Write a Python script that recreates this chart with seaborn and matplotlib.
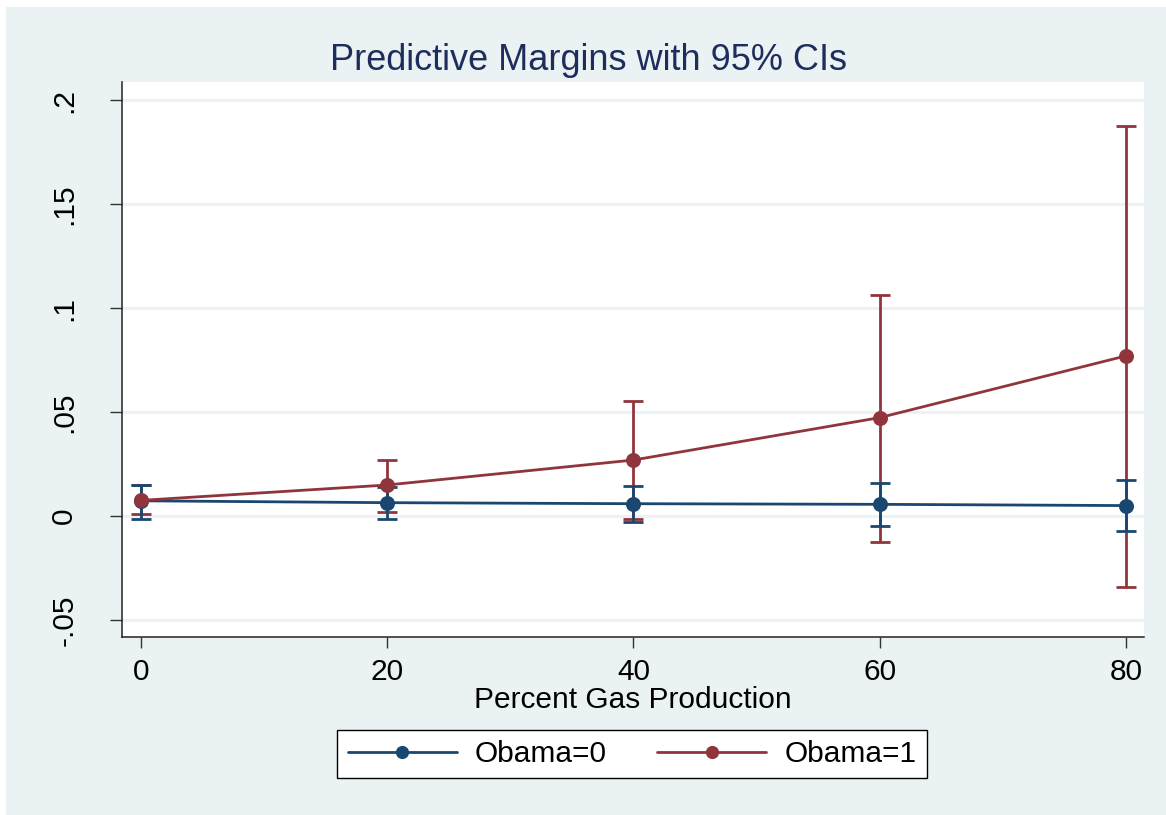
import matplotlib
matplotlib.use("Agg")
import matplotlib.pyplot as plt
from matplotlib.patches import Rectangle
from matplotlib.lines import Line2D
import seaborn as sns
import pandas as pd

# ---- data ----
gas_pct = [0, 20, 40, 60, 80]
obama0_margin = [0.0073, 0.0064, 0.0059, 0.0056, 0.0050]
obama0_lo = [-0.0013, -0.0014, -0.0027, -0.0048, -0.0071]
obama0_hi = [0.0150, 0.0141, 0.0146, 0.0159, 0.0173]
obama1_margin = [0.0075, 0.0149, 0.0269, 0.0473, 0.0770]
obama1_lo = [0.0010, 0.0021, -0.0016, -0.0126, -0.0341]
obama1_hi = [0.0149, 0.0269, 0.0553, 0.1063, 0.1874]
series_labels = ["Obama=0", "Obama=1"]
y_ticks = [-0.05, 0, 0.05, 0.1, 0.15, 0.2]
y_tick_labels = ["-.05", "0", ".05", ".1", ".15", ".2"]
x_ticks = [0, 20, 40, 60, 80]
title = "Predictive Margins with 95% CIs"
x_label = "Percent Gas Production"

BG = "#EAF2F3"
NAVY = "#1A476F"
MAROON = "#90353B"
colors = [NAVY, MAROON]
FS = 21.5

sns.set_theme(style="white")
plt.rcParams["font.family"] = ["Liberation Sans", "DejaVu Sans"]
plt.rcParams["text.color"] = "black"
plt.rcParams["xtick.labelcolor"] = "black"
plt.rcParams["ytick.labelcolor"] = "black"

df = pd.DataFrame({
    "x": gas_pct * 2,
    "y": obama0_margin + obama1_margin,
    "series": [series_labels[0]] * 5 + [series_labels[1]] * 5,
})

W, H = 1166, 815
fig = plt.figure(figsize=(W / 100, H / 100), dpi=100, facecolor="white")
fig.patches.append(Rectangle((6 / W, 0), 1 - 6 / W, 1 - 7 / H, transform=fig.transFigure,
                             facecolor=BG, edgecolor="none", zorder=-10))
ax = fig.add_axes([122 / W, 1 - 637 / H, (1144 - 122) / W, (637 - 82) / H])
ax.set_facecolor("white")

# CIs
for lo, hi, m, c, z in [(obama1_lo, obama1_hi, obama1_margin, MAROON, 2),
                        (obama0_lo, obama0_hi, obama0_margin, NAVY, 3)]:
    err = [[mm - l for mm, l in zip(m, lo)], [h - mm for mm, h in zip(m, hi)]]
    ax.errorbar(gas_pct, m, yerr=err, fmt="none", ecolor=c, elinewidth=2.0,
                capsize=7, capthick=2.0, zorder=z)

sns.lineplot(data=df, x="x", y="y", hue="series", palette=colors, marker="o",
             markersize=10.8, markeredgewidth=0, linewidth=2.0, ax=ax, zorder=4,
             legend=False)

ax.set_xlim(-1.54, 81.46)
ax.set_ylim(-0.0582, 0.2087)
ax.set_yticks(y_ticks)
ax.set_yticklabels(y_tick_labels, rotation=90, va="center", fontsize=FS, color="black")
ax.set_xticks(x_ticks)
ax.set_xticklabels([str(t) for t in x_ticks], fontsize=FS, color="black")
ax.tick_params(axis="y", direction="out", length=8.5, width=1.0, color="#333333", pad=23,
               left=True)
ax.tick_params(axis="x", direction="out", length=8, width=1.0, color="#333333", pad=7,
               bottom=True)
ax.grid(axis="y", color=BG, linewidth=2.0)
ax.grid(axis="x", visible=False)
for s in ["top", "right"]:
    ax.spines[s].set_visible(False)
for s in ["left", "bottom"]:
    ax.spines[s].set_color("#222222")
    ax.spines[s].set_linewidth(1.1)
ax.set_xlabel(x_label, fontsize=FS, color="black", va="center")
ax.xaxis.set_label_coords(0.5, (637 - 700) / 555)
ax.set_ylabel("")

fig.text(589 / W, 1 - 60 / H, title, ha="center", va="center", fontsize=26, color="#1E2D5C")

handles = [Line2D([0], [0], color=c, linewidth=2.0, marker="o", markersize=9.5,
                  markeredgewidth=0) for c in colors]
leg = fig.legend(handles, series_labels, loc="center", bbox_to_anchor=(632 / W, 1 - 754 / H),
                 ncol=2, fontsize=FS, frameon=True, fancybox=False, edgecolor="black",
                 facecolor="white", framealpha=1, handlelength=3.65, columnspacing=1.7,
                 borderpad=0.35, handletextpad=0.6, borderaxespad=0, labelcolor="black")
leg.get_frame().set_linewidth(1.0)

fig.savefig("out.png", dpi=100, facecolor=fig.get_facecolor())
